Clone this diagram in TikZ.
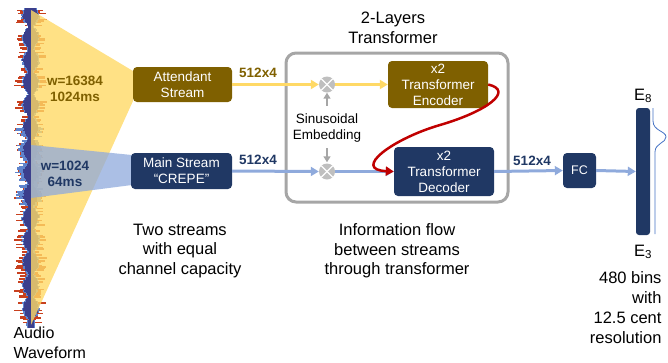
\documentclass[tikz,border=0pt]{standalone}
\usepackage{fontspec}
\setmainfont{Liberation Sans}
\usetikzlibrary{arrows.meta}
\definecolor{gold}{HTML}{7F6000}
\definecolor{navy}{HTML}{203864}
\definecolor{ylw}{HTML}{FFD966}
\definecolor{lblue}{HTML}{8FAADC}
\definecolor{boxgray}{HTML}{A6A6A6}
\definecolor{circgray}{HTML}{BFBFBF}
\definecolor{dred}{HTML}{C00000}
\definecolor{wred}{HTML}{C8401E}
\definecolor{wblue}{HTML}{5F84CC}
\definecolor{wnavy}{HTML}{3B3F8C}
\definecolor{braceblue}{HTML}{4472C4}
\begin{document}
\begin{tikzpicture}[x=1pt,y=-1pt,
  blk/.style={rounded corners=4pt, text=white, align=center, inner sep=0pt,
    font=\fontsize{13.5}{16}\selectfont},
  goldblk/.style={blk, fill=gold},
  navyblk/.style={blk, fill=navy},
  yarrow/.style={draw=ylw, line width=3pt, -{Triangle[length=8pt,width=9pt]}},
  barrow/.style={draw=lblue, line width=3pt, -{Triangle[length=8pt,width=9pt]}},
  garrow/.style={draw=boxgray, line width=2pt, -{Triangle[length=6pt,width=7pt]}},
  redarrow/.style={draw=dred, line width=2.5pt, -{Triangle[length=8pt,width=9pt]}},
  mult/.style={circle, fill=circgray, minimum size=16pt, inner sep=0pt},
  lbl/.style={font=\fontsize{13.5}{16}\selectfont\bfseries, align=center},
  bigtxt/.style={font=\fontsize{16.5}{19.5}\selectfont, align=center},
]
\useasboundingbox (0,0) rectangle (668,362);

% ---- waveform ----
\pgfmathsetseed{7}
\foreach \i in {0,...,212}{
  \pgfmathsetmacro\y{8+1.5*\i}
  \pgfmathsetmacro\taper{min(1,(212-\i)/10+0.25)}
  \pgfmathsetmacro\env{\taper*(0.15+0.85*abs(sin(12*\i+40)))}
  \pgfmathsetmacro\mid{(\y>125)*(\y<205)}
  \pgfmathsetmacro\nl{1+\env*(6+2*rnd)}
  \pgfmathsetmacro\nr{1+\env*(5+2*rnd)}
  \pgfmathsetmacro\bl{\nl+0.5+(1.5+6*\mid)*rnd}
  \pgfmathsetmacro\br{\nr+0.5+(1.5+5*\mid)*rnd}
  \pgfmathsetmacro\spk{(rnd>0.5)*(1-0.8*\mid)}
  \pgfmathsetmacro\rl{\bl+\spk*(2+7*rnd)}
  \pgfmathsetmacro\rr{\br+\spk*(2+6*rnd)}
  \fill[wred] (31-\rl,\y) rectangle (31+\rr,\y+1.6);
  \fill[wblue] (31-\bl,\y) rectangle (31+\br,\y+1.6);
  \fill[wnavy] (31-\nl,\y) rectangle (31+\nr,\y+1.6);
}

% ---- fans ----
\fill[ylw, opacity=0.8] (31,10) -- (133,71) -- (133,101) -- (31,325) -- cycle;
\fill[lblue, opacity=0.75] (31,145) -- (132,155) -- (132,185) -- (31,198) -- cycle;

\node[lbl, text=gold] (wa) at (75,89) {w=16384\\1024ms};
\node[lbl, text=navy] (wb) at (65,174) {w=1024\\64ms};

% ---- transformer frame ----
\node[draw=boxgray, line width=3pt, rounded corners=10pt, minimum width=222pt,
  minimum height=149pt, inner sep=0pt] (frame) at (397,127.5) {};
\node[bigtxt] (title) at (393,28) {2-Layers\\Transformer};

% ---- blocks ----
\node[goldblk, minimum width=99pt, minimum height=35pt] (att) at (182.5,84.5) {Attendant\\Stream};
\node[navyblk, minimum width=101pt, minimum height=36pt] (main) at (181.5,171) {Main Stream\\“CREPE”};
\node[goldblk, minimum width=100pt, minimum height=47pt] (enc) at (438,84.5) {x2\\Transformer\\Encoder};
\node[navyblk, minimum width=100pt, minimum height=49pt] (dec) at (444,171.5) {x2\\Transformer\\Decoder};
\node[navyblk, minimum width=33pt, minimum height=35pt, font=\fontsize{12.5}{15}\selectfont] (fc) at (579.5,170.5) {FC};
\node[fill=navy, rounded corners=3pt, minimum width=14pt, minimum height=127pt, inner sep=0pt] (bar) at (643,171.5) {};

% ---- multipliers ----
\node[mult] (c1) at (327,84.5) {};
\node[mult] (c2) at (327,171.5) {};
\foreach \c in {c1,c2}{
  \draw[white, line width=1.3pt] (\c.45) -- (\c.225);
  \draw[white, line width=1.3pt] (\c.135) -- (\c.-45);
}
\node[font=\fontsize{13.5}{16}\selectfont, align=center, inner sep=1pt] (emb) at (327,128) {Sinusoidal\\Embedding};
\draw[garrow, shorten <=7pt] (emb.north) -- (c1.south);
\draw[garrow, shorten <=5pt, shorten >=1pt] (emb.south) -- (c2.north);

% ---- flows ----
\draw[yarrow] (att.east) -- (c1.west);
\draw[yarrow] (c1.east) -- (enc.west);
\draw[barrow] (main.east) -- (c2.west);
\draw[barrow] (c2.east) -- (dec.west);
\draw[barrow] (dec.east) -- (fc.west);
\draw[barrow] (fc.east) -- (bar.west);

\coordinate (rmid) at (440,125);
\draw[redarrow] (enc.east) .. controls +(26,6) and +(48,-14) .. (rmid)
  .. controls +(-48,14) and +(-42,-2) .. (dec.west);

\node[lbl, text=gold] (l1) at (258,73) {512x4};
\node[lbl, text=navy] (l2) at (258,160) {512x4};
\node[lbl, text=navy] (l3) at (532,161) {512x4};

% ---- output ----
\draw[braceblue, line width=0.8pt] (653,108) -- (653,121) .. controls (653,131) and (666,131) .. (666,137)
  .. controls (666,143) and (655,143) .. (655,152) -- (655,234);
\node[font=\fontsize{16.5}{19}\selectfont] (e8) at (643,96) {E\textsubscript{8}};
\node[font=\fontsize{16.5}{19}\selectfont] (e3) at (643,252) {E\textsubscript{3}};
\node[font=\fontsize{16.5}{20}\selectfont, align=right, anchor=east] (bins) at (665,308) {480 bins\\with\\12.5 cent\\resolution};

% ---- captions ----
\node[bigtxt] (cap1) at (180,251) {Two streams\\with equal\\channel capacity};
\node[bigtxt] (cap2) at (397,251) {Information flow\\between streams\\through transformer};
\node[font=\fontsize{16}{19.5}\selectfont, align=left, anchor=west] (aw) at (10,343) {Audio\\Waveform};
\end{tikzpicture}
\end{document}
